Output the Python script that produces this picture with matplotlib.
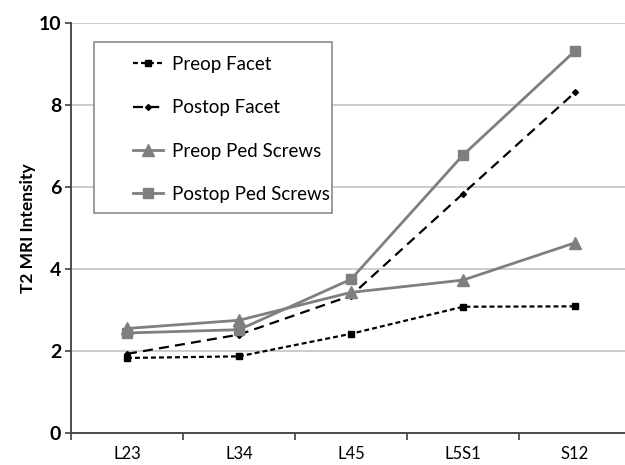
import matplotlib
matplotlib.use("Agg")
import matplotlib.pyplot as plt
from matplotlib.patches import Rectangle
import numpy as np

categories = ["L23", "L34", "L45", "L5S1", "S12"]
preop_facet = [1.84, 1.88, 2.43, 3.09, 3.10]
postop_facet = [1.94, 2.41, 3.36, 5.85, 8.32]
preop_ped = [2.56, 2.76, 3.44, 3.74, 4.65]
postop_ped = [2.45, 2.53, 3.76, 6.79, 9.33]
y_ticks = [0, 2, 4, 6, 8, 10]

plt.rcParams['font.family'] = ['Lato', 'DejaVu Sans']

fig = plt.figure(figsize=(6.25, 4.65), dpi=100)
ax = fig.add_axes([71/625, 1-433.4/465, 560/625, (433.4-23.5)/465])

x = np.arange(len(categories))
gray = "#7f7f7f"
ax.plot(x, preop_facet, color="black", lw=1.6, ls=(0, (2.2, 1.4)), marker="s", ms=5, label="Preop Facet", zorder=3)
ax.plot(x, postop_facet, color="black", lw=1.6, ls=(0, (4.5, 2.8)), marker="D", ms=3, label="Postop Facet", zorder=3)
ax.plot(x, preop_ped, color=gray, lw=2, marker="^", ms=8, label="Preop Ped Screws", zorder=3)
ax.plot(x, postop_ped, color=gray, lw=2, marker="s", ms=7, label="Postop Ped Screws", zorder=3)

ax.set_xlim(-0.5, len(categories) - 0.5)
ax.set_ylim(0, 10)
ax.set_yticks(y_ticks)
ax.set_yticklabels([str(v) for v in y_ticks], fontsize=14, fontweight="bold")
ax.yaxis.grid(True, color="#c4c4c4", lw=1.2)
ax.set_axisbelow(True)

ax.set_xticks(np.arange(-0.5, len(categories), 1.0))
ax.set_xticklabels([])
ax.set_xticks(x, minor=True)
ax.set_xticklabels(categories, minor=True, fontsize=12)
ax.tick_params(axis="x", which="minor", length=0, pad=9)
ax.tick_params(axis="x", which="major", length=5, width=1.2, color="#404040", direction="out")
ax.tick_params(axis="y", length=4, width=1.2, color="#404040", pad=3)

for s in ["top", "right"]:
    ax.spines[s].set_visible(False)
for s in ["left", "bottom"]:
    ax.spines[s].set_color("#404040")
    ax.spines[s].set_linewidth(1.3)

ax.set_ylabel("T2 MRI Intensity", fontsize=12.5, fontweight="bold", labelpad=2)

frame = Rectangle((23/560, (433.4-213)/409.9), 238/560, (213-41.7)/409.9,
                  transform=ax.transAxes, fill=True, facecolor="white",
                  edgecolor="#8a8a8a", lw=1.2, zorder=4)
ax.add_patch(frame)
leg = ax.legend(loc="upper left", bbox_to_anchor=((133-71)/560, (433.4-56)/409.9),
                frameon=False, fontsize=13.5, handlelength=1.6, handletextpad=0.5,
                labelspacing=1.4, borderpad=0, borderaxespad=0)
leg.set_zorder(5)

fig.savefig("out.png", dpi=100)
